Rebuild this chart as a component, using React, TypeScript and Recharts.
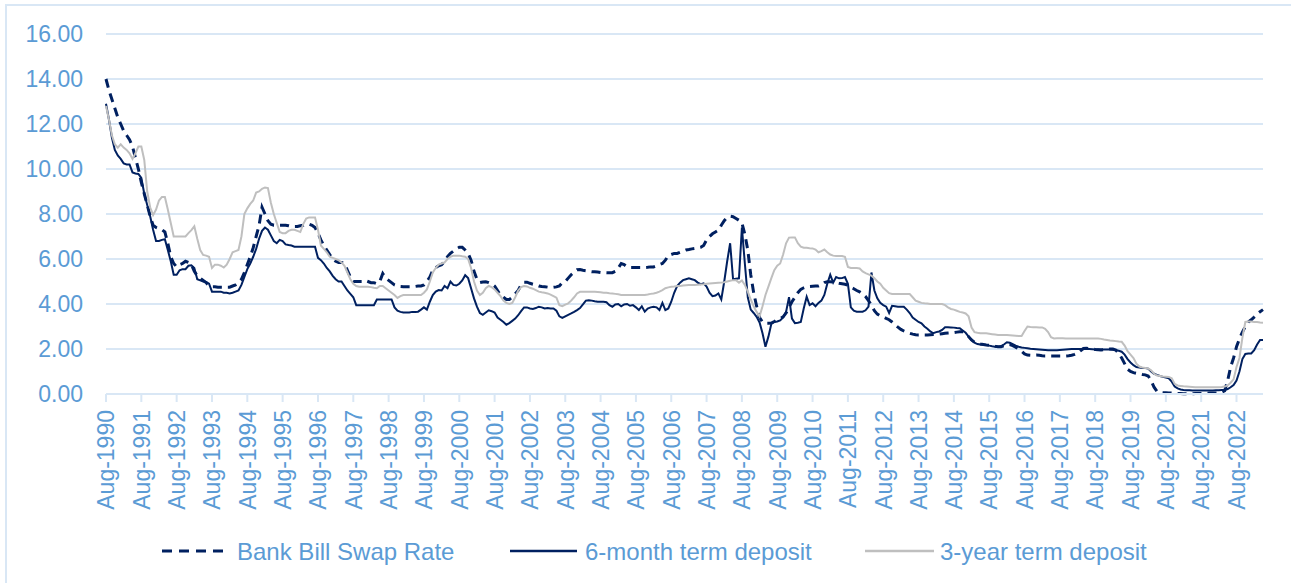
import React from 'react';
import { LineChart, Line, XAxis, YAxis, CartesianGrid } from 'recharts';

const MONTH_NAMES = ['Jan', 'Feb', 'Mar', 'Apr', 'May', 'Jun', 'Jul', 'Aug', 'Sep', 'Oct', 'Nov', 'Dec'];
const FIRST_YEAR = 1990;
const FIRST_MONTH = 7; // Aug
const N_MONTHS = 394; // Aug-1990 .. May-2023

const categories: string[] = Array.from({ length: N_MONTHS }, (_, i) => {
  const k = FIRST_MONTH + i;
  return `${MONTH_NAMES[k % 12]}-${FIRST_YEAR + Math.floor(k / 12)}`;
});

const yTicks = [0, 2, 4, 6, 8, 10, 12, 14, 16];

// Bank Bill Swap Rate, monthly, rows Aug..Jul
const bbswRows = [
  [14.0, 13.5, 13.1, 12.7, 12.3, 12.0, 11.7, 11.5, 11.3, 11.0, 10.5, 10.0],
  [9.4, 8.9, 8.4, 7.9, 7.5, 7.4, 7.35, 7.3, 7.2, 6.7, 6.1, 5.8],
  [5.65, 5.75, 5.8, 5.9, 5.85, 5.75, 5.45, 5.25, 5.15, 5.05, 4.95, 4.8],
  [4.77, 4.77, 4.75, 4.75, 4.75, 4.75, 4.75, 4.8, 4.85, 4.95, 5.1, 5.4],
  [5.75, 6.1, 6.5, 7.0, 7.5, 8.3, 8.0, 7.7, 7.55, 7.5, 7.5, 7.5],
  [7.5, 7.5, 7.48, 7.45, 7.45, 7.45, 7.48, 7.5, 7.55, 7.55, 7.5, 7.4],
  [7.15, 6.85, 6.6, 6.4, 6.2, 6.0, 5.9, 5.85, 5.85, 5.8, 5.5, 5.2],
  [5.0, 5.0, 5.0, 5.0, 5.05, 5.0, 4.95, 4.95, 4.9, 5.0, 5.35, 5.15],
  [5.05, 4.95, 4.85, 4.8, 4.78, 4.77, 4.77, 4.77, 4.77, 4.78, 4.8, 4.8],
  [4.85, 5.0, 5.2, 5.5, 5.62, 5.7, 5.75, 5.9, 6.1, 6.25, 6.35, 6.45],
  [6.52, 6.52, 6.4, 6.25, 5.95, 5.45, 5.1, 4.95, 4.98, 4.99, 4.95, 4.9],
  [4.8, 4.6, 4.4, 4.3, 4.2, 4.2, 4.3, 4.45, 4.6, 4.85, 4.97, 4.97],
  [4.92, 4.88, 4.85, 4.8, 4.78, 4.77, 4.75, 4.74, 4.74, 4.76, 4.8, 4.95],
  [5.0, 5.15, 5.3, 5.42, 5.52, 5.53, 5.5, 5.48, 5.45, 5.43, 5.43, 5.42],
  [5.4, 5.4, 5.39, 5.39, 5.39, 5.45, 5.6, 5.8, 5.75, 5.65, 5.62, 5.62],
  [5.62, 5.62, 5.62, 5.62, 5.63, 5.65, 5.65, 5.7, 5.75, 5.8, 5.95, 6.15],
  [6.2, 6.25, 6.25, 6.3, 6.35, 6.4, 6.42, 6.45, 6.47, 6.5, 6.52, 6.6],
  [6.85, 7.0, 7.12, 7.2, 7.28, 7.5, 7.7, 7.85, 7.9, 7.88, 7.8, 7.72],
  [7.6, 7.1, 6.4, 5.3, 4.5, 3.9, 3.4, 3.2, 3.14, 3.14, 3.15, 3.22],
  [3.3, 3.36, 3.43, 3.6, 3.85, 4.1, 4.3, 4.5, 4.65, 4.72, 4.77, 4.78],
  [4.79, 4.8, 4.8, 4.85, 4.95, 4.99, 4.99, 4.97, 4.95, 4.92, 4.9, 4.88],
  [4.84, 4.75, 4.68, 4.6, 4.54, 4.45, 4.33, 4.15, 3.95, 3.7, 3.55, 3.47],
  [3.43, 3.36, 3.3, 3.2, 3.08, 2.97, 2.87, 2.8, 2.74, 2.7, 2.66, 2.63],
  [2.62, 2.62, 2.62, 2.62, 2.63, 2.64, 2.65, 2.66, 2.68, 2.7, 2.71, 2.72],
  [2.73, 2.75, 2.77, 2.77, 2.7, 2.55, 2.4, 2.3, 2.25, 2.22, 2.2, 2.18],
  [2.17, 2.15, 2.12, 2.1, 2.1, 2.15, 2.2, 2.2, 2.15, 2.08, 2.0, 1.9],
  [1.78, 1.73, 1.72, 1.72, 1.73, 1.72, 1.7, 1.69, 1.69, 1.69, 1.69, 1.69],
  [1.69, 1.69, 1.69, 1.7, 1.72, 1.76, 1.82, 1.92, 2.02, 2.03, 2.02, 2.0],
  [1.98, 1.97, 1.96, 1.97, 1.98, 2.0, 2.0, 1.95, 1.82, 1.6, 1.35, 1.1],
  [1.0, 0.95, 0.92, 0.9, 0.87, 0.85, 0.8, 0.6, 0.3, 0.12, 0.09, 0.07],
  [0.06, 0.05, 0.04, 0.03, 0.02, 0.02, 0.01, 0.01, 0.01, 0.01, 0.02, 0.02],
  [0.02, 0.03, 0.03, 0.04, 0.05, 0.05, 0.06, 0.08, 0.15, 0.6, 1.2, 1.6],
  [2.1, 2.45, 2.75, 3.0, 3.2, 3.3, 3.42, 3.55, 3.66, 3.75],
];

// 6-month term deposit
const td6Rows = [
  [12.9, 12.2, 11.4, 10.85, 10.6, 10.45, 10.25, 10.2, 10.2, 9.85, 9.8, 9.78],
  [9.6, 8.9, 8.4, 7.9, 7.3, 6.8, 6.8, 6.85, 6.88, 6.4, 5.9, 5.3],
  [5.3, 5.5, 5.55, 5.55, 5.7, 5.72, 5.6, 5.1, 5.05, 5.0, 4.98, 4.9],
  [4.55, 4.55, 4.55, 4.55, 4.5, 4.5, 4.47, 4.5, 4.55, 4.6, 4.85, 5.2],
  [5.55, 5.8, 6.1, 6.45, 6.9, 7.25, 7.4, 7.3, 7.05, 6.8, 6.7, 6.85],
  [6.8, 6.65, 6.62, 6.6, 6.55, 6.55, 6.55, 6.55, 6.55, 6.55, 6.55, 6.55],
  [6.05, 5.95, 5.8, 5.6, 5.45, 5.25, 5.1, 5.0, 5.0, 4.8, 4.6, 4.45],
  [4.3, 3.95, 3.95, 3.95, 3.95, 3.95, 3.95, 3.95, 4.2, 4.2, 4.2, 4.2],
  [4.2, 4.2, 3.85, 3.7, 3.65, 3.62, 3.62, 3.62, 3.65, 3.65, 3.66, 3.75],
  [3.85, 3.75, 4.1, 4.4, 4.55, 4.62, 4.6, 4.8, 4.7, 5.0, 4.85, 4.82],
  [4.9, 5.05, 5.28, 5.15, 4.7, 4.25, 3.88, 3.6, 3.52, 3.62, 3.72, 3.68],
  [3.62, 3.4, 3.3, 3.2, 3.08, 3.15, 3.25, 3.35, 3.5, 3.68, 3.85, 3.85],
  [3.8, 3.78, 3.82, 3.88, 3.85, 3.8, 3.82, 3.8, 3.8, 3.7, 3.45, 3.38],
  [3.45, 3.52, 3.58, 3.65, 3.73, 3.82, 3.98, 4.15, 4.17, 4.15, 4.12, 4.1],
  [4.1, 4.1, 4.08, 3.95, 3.88, 3.98, 4.0, 3.9, 3.98, 4.0, 3.92, 3.95],
  [3.85, 3.73, 3.9, 3.66, 3.8, 3.85, 3.88, 3.85, 3.73, 4.05, 3.73, 3.8],
  [4.1, 4.5, 4.8, 4.95, 5.06, 5.1, 5.14, 5.1, 5.06, 4.95, 4.88, 4.92],
  [4.77, 4.5, 4.35, 4.38, 4.47, 4.2, 5.0, 5.9, 6.7, 5.1, 5.12, 5.14],
  [7.4, 5.8, 4.3, 3.75, 3.6, 3.43, 3.18, 2.7, 2.1, 2.55, 3.12, 3.2],
  [3.22, 3.27, 3.4, 3.65, 4.3, 3.35, 3.15, 3.17, 3.2, 3.8, 4.32, 3.95],
  [4.03, 3.9, 4.05, 4.15, 4.4, 4.9, 5.3, 4.95, 5.2, 5.14, 5.15, 5.2],
  [4.9, 3.85, 3.7, 3.66, 3.66, 3.66, 3.72, 3.88, 5.4, 4.6, 4.25, 4.05],
  [3.95, 3.88, 3.6, 3.92, 3.9, 3.88, 3.88, 3.88, 3.75, 3.6, 3.4, 3.3],
  [3.2, 3.14, 3.0, 2.9, 2.78, 2.7, 2.75, 2.78, 2.85, 2.97, 2.97, 2.96],
  [2.95, 2.93, 2.92, 2.82, 2.72, 2.55, 2.4, 2.28, 2.22, 2.2, 2.19, 2.18],
  [2.15, 2.12, 2.1, 2.1, 2.12, 2.2, 2.3, 2.28, 2.22, 2.15, 2.1, 2.07],
  [2.05, 2.03, 2.01, 2.0, 1.99, 1.98, 1.97, 1.96, 1.95, 1.95, 1.95, 1.95],
  [1.96, 1.97, 1.98, 1.99, 2.0, 2.0, 2.0, 2.0, 2.0, 2.0, 2.0, 1.99],
  [1.98, 1.98, 1.98, 1.98, 1.98, 1.98, 1.97, 1.95, 1.92, 1.88, 1.75, 1.55],
  [1.4, 1.28, 1.2, 1.18, 1.16, 1.15, 1.13, 1.0, 0.9, 0.85, 0.8, 0.76],
  [0.73, 0.7, 0.55, 0.33, 0.25, 0.2, 0.18, 0.17, 0.17, 0.16, 0.16, 0.16],
  [0.16, 0.16, 0.16, 0.16, 0.16, 0.17, 0.17, 0.18, 0.18, 0.22, 0.3, 0.4],
  [0.6, 1.0, 1.55, 1.78, 1.8, 1.8, 1.95, 2.2, 2.4, 2.4],
];

// 3-year term deposit
const td3Rows = [
  [12.8, 12.2, 11.5, 11.1, 10.95, 11.1, 10.95, 10.85, 10.7, 10.45, 10.7, 11.0],
  [11.0, 10.4, 9.0, 8.3, 7.95, 8.2, 8.6, 8.76, 8.76, 8.2, 7.6, 7.0],
  [7.0, 7.0, 7.0, 7.0, 7.15, 7.28, 7.45, 6.9, 6.4, 6.18, 6.15, 6.1],
  [5.6, 5.75, 5.75, 5.7, 5.62, 5.75, 6.0, 6.3, 6.35, 6.4, 7.0, 8.0],
  [8.25, 8.45, 8.6, 8.95, 9.0, 9.12, 9.18, 9.15, 8.5, 8.0, 7.6, 7.2],
  [7.15, 7.15, 7.25, 7.3, 7.3, 7.25, 7.2, 7.55, 7.8, 7.85, 7.85, 7.85],
  [7.3, 6.6, 6.45, 6.3, 6.1, 6.05, 6.0, 5.95, 5.85, 5.7, 5.4, 5.1],
  [4.9, 4.8, 4.77, 4.77, 4.77, 4.77, 4.75, 4.72, 4.7, 4.8, 4.8, 4.7],
  [4.6, 4.5, 4.4, 4.27, 4.35, 4.4, 4.4, 4.4, 4.4, 4.4, 4.4, 4.4],
  [4.5, 4.65, 5.0, 5.4, 5.6, 5.75, 5.8, 5.85, 6.0, 6.1, 6.15, 6.15],
  [6.15, 6.12, 6.1, 6.0, 5.6, 5.0, 4.6, 4.4, 4.5, 4.7, 4.8, 4.75],
  [4.65, 4.5, 4.35, 4.15, 4.05, 4.0, 4.05, 4.3, 4.6, 4.75, 4.8, 4.78],
  [4.72, 4.68, 4.62, 4.55, 4.52, 4.5, 4.47, 4.42, 4.35, 4.28, 3.95, 3.9],
  [3.97, 4.03, 4.15, 4.3, 4.47, 4.54, 4.54, 4.54, 4.54, 4.54, 4.54, 4.53],
  [4.52, 4.5, 4.5, 4.48, 4.47, 4.45, 4.43, 4.4, 4.4, 4.4, 4.4, 4.4],
  [4.4, 4.4, 4.4, 4.4, 4.42, 4.45, 4.47, 4.5, 4.55, 4.62, 4.7, 4.74],
  [4.77, 4.78, 4.8, 4.8, 4.82, 4.83, 4.84, 4.85, 4.85, 4.86, 4.87, 4.88],
  [4.9, 4.91, 4.92, 4.93, 4.94, 4.95, 4.97, 5.0, 5.03, 5.06, 5.06, 4.95],
  [5.05, 4.85, 4.55, 4.2, 3.9, 3.65, 3.45, 3.9, 4.4, 4.77, 5.15, 5.5],
  [5.7, 5.8, 6.2, 6.7, 6.95, 6.96, 6.96, 6.7, 6.55, 6.5, 6.5, 6.48],
  [6.47, 6.42, 6.3, 6.35, 6.42, 6.3, 6.2, 6.15, 6.13, 6.13, 6.13, 6.1],
  [5.65, 5.6, 5.6, 5.6, 5.58, 5.45, 5.37, 5.32, 5.26, 5.15, 5.0, 4.9],
  [4.72, 4.6, 4.48, 4.45, 4.45, 4.45, 4.45, 4.45, 4.44, 4.44, 4.3, 4.15],
  [4.1, 4.05, 4.03, 4.02, 4.0, 4.0, 4.0, 4.0, 4.0, 3.95, 3.85, 3.78],
  [3.75, 3.7, 3.65, 3.62, 3.58, 3.45, 2.95, 2.75, 2.72, 2.7, 2.7, 2.7],
  [2.68, 2.66, 2.64, 2.62, 2.62, 2.62, 2.62, 2.61, 2.6, 2.59, 2.58, 2.58],
  [2.8, 3.0, 2.98, 2.97, 2.97, 2.96, 2.96, 2.9, 2.75, 2.52, 2.47, 2.48],
  [2.48, 2.48, 2.47, 2.47, 2.47, 2.47, 2.47, 2.47, 2.47, 2.47, 2.47, 2.47],
  [2.47, 2.47, 2.45, 2.42, 2.4, 2.38, 2.37, 2.35, 2.33, 2.32, 2.15, 1.9],
  [1.75, 1.6, 1.35, 1.22, 1.18, 1.16, 1.14, 1.05, 0.9, 0.82, 0.8, 0.78],
  [0.77, 0.76, 0.7, 0.45, 0.38, 0.36, 0.34, 0.33, 0.32, 0.31, 0.3, 0.3],
  [0.3, 0.3, 0.3, 0.3, 0.3, 0.3, 0.3, 0.31, 0.33, 0.38, 0.5, 0.65],
  [1.2, 1.6, 2.5, 3.2, 3.22, 3.22, 3.2, 3.2, 3.18, 3.17],
];

const bbsw = bbswRows.flat();
const td6 = td6Rows.flat();
const td3 = td3Rows.flat();

const data = categories.map((m, i) => ({ m, bbsw: bbsw[i], td6: td6[i], td3: td3[i] }));

const TEXT = '#5B9BD5';
const GRID = '#D9E7F5';
const NAVY = '#002060';
const GRAY = '#BFBFBF';
const FONT = '"Liberation Sans", Arial, sans-serif';

const XTick = (props: any) => {
  const { x, y, payload } = props;
  return (
    <g transform={`translate(${x},${y})`}>
      <text x={0} y={0} dy="0.36em" textAnchor="end" transform="rotate(-90)" fill={TEXT} fontSize={23} fontFamily={FONT}>
        {payload.value}
      </text>
    </g>
  );
};

const legendItems = [
  { label: 'Bank Bill Swap Rate', color: NAVY, dash: '10 7', width: 3, x1: 162, x2: 229, tx: 237 },
  { label: '6-month term deposit', color: NAVY, dash: undefined, width: 2.5, x1: 510, x2: 577, tx: 585 },
  { label: '3-year term deposit', color: GRAY, dash: undefined, width: 2.5, x1: 865, x2: 934, tx: 940 },
];

export default function App() {
  return (
    <div style={{ position: 'absolute', left: 0, top: 0, width: 1291, height: 583, overflow: 'hidden', background: '#fff' }}>
      <div style={{ position: 'absolute', left: 5, top: 4, width: 1320, height: 620, border: `2px solid ${GRID}`, boxSizing: 'border-box' }} />
      <div style={{ position: 'absolute', left: 0, top: 0 }}>
        <LineChart width={1291} height={583} data={data} margin={{ top: 34, right: 28, bottom: 0, left: 0 }}>
          <CartesianGrid vertical={false} stroke={GRID} strokeWidth={2} />
          <XAxis
            dataKey="m"
            interval={11}
            height={189}
            tick={<XTick />}
            tickSize={8}
            tickMargin={8}
            axisLine={{ stroke: GRID, strokeWidth: 2 }}
            tickLine={{ stroke: GRID, strokeWidth: 2 }}
          />
          <YAxis
            width={106}
            domain={[0, 16]}
            ticks={yTicks}
            tickFormatter={(v: number) => v.toFixed(2)}
            axisLine={false}
            tickLine={false}
            tickSize={6}
            tickMargin={17}
            tick={{ fill: TEXT, fontSize: 23, fontFamily: FONT }}
          />
          <Line dataKey="bbsw" name="Bank Bill Swap Rate" stroke={NAVY} strokeWidth={3} strokeDasharray="9 6" dot={false} type="linear" isAnimationActive={false} />
          <Line dataKey="td6" name="6-month term deposit" stroke={NAVY} strokeWidth={2} dot={false} type="linear" isAnimationActive={false} />
          <Line dataKey="td3" name="3-year term deposit" stroke={GRAY} strokeWidth={2} dot={false} type="linear" isAnimationActive={false} />
        </LineChart>
      </div>
      <svg width={1291} height={583} style={{ position: 'absolute', left: 0, top: 0, pointerEvents: 'none' }}>
        {legendItems.map((it) => (
          <g key={it.label}>
            <line x1={it.x1} x2={it.x2} y1={551} y2={551} stroke={it.color} strokeWidth={it.width} strokeDasharray={it.dash} />
            <text x={it.tx} y={560} fill={TEXT} fontSize={24} fontFamily={FONT}>{it.label}</text>
          </g>
        ))}
      </svg>
    </div>
  );
}
